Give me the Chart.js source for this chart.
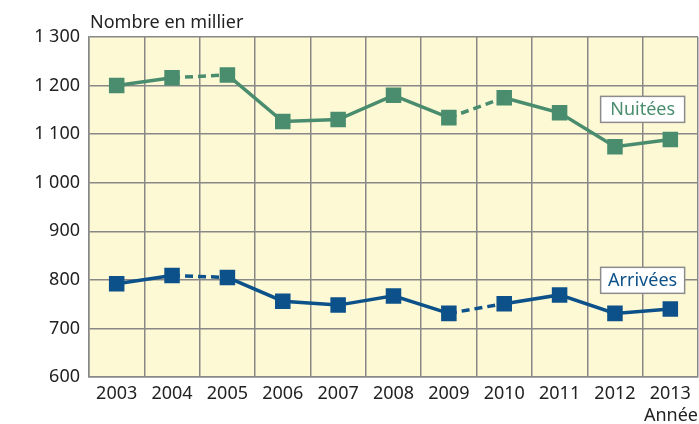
<!DOCTYPE html>
<html>
<head>
<meta charset="utf-8">
<script src="https://cdn.jsdelivr.net/npm/chart.js@4"></script>
<style>
	html, body { margin: 0; padding: 0; background: #ffffff; }
	#wrap { width: 699px; height: 424px; position: relative; }
</style>
</head>
<body>
<div id="wrap"><canvas id="chart"></canvas></div>
<script>
const years = ['2003', '2004', '2005', '2006', '2007', '2008', '2009', '2010', '2011', '2012', '2013'];
const nuitees = [1200, 1216, 1222, 1126, 1130, 1180, 1134, 1175, 1144, 1074, 1089];
const arrivees = [792, 809, 805, 756, 748, 767, 731, 751, 769, 731, 740];
// segments drawn dashed (index of the starting point)
const dashedFrom = [1, 6];

const green = '#4a8d6e';
const blue = '#0c5189';
const fontName = '"Noto Sans", sans-serif';

function segDash(ctx) {
	return dashedFrom.indexOf(ctx.p0DataIndex) !== -1 ? [8, 5] : undefined;
}

const decor = {
	id: 'decor',
	beforeDraw(chart) {
		const a = chart.chartArea;
		const c = chart.ctx;
		c.save();
		c.fillStyle = '#fef9d5';
		c.fillRect(a.left, a.top, a.right - a.left, a.bottom - a.top);
		c.restore();
	},
	afterDraw(chart) {
		const c = chart.ctx;
		const x = chart.scales.x;
		const y = chart.scales.y;
		c.save();
		c.font = '18px ' + fontName;
		c.fillStyle = '#222222';
		c.textBaseline = 'alphabetic';
		c.textAlign = 'left';
		c.fillText('Nombre en millier', 90, 28);
		c.textAlign = 'right';
		c.fillText('Année', 698, 421);
		// series labels in boxes
		const labels = [
			{text: 'Nuitées', color: green, value: 1151},
			{text: 'Arrivées', color: blue, value: 799},
		];
		for (let l of labels) {
			let cx = x.getPixelForValue(9.5);
			let cy = y.getPixelForValue(l.value);
			let w = 84, h = 26;
			c.fillStyle = '#ffffff';
			c.fillRect(cx - w / 2, cy - h / 2, w, h);
			c.strokeStyle = '#8c8c8c';
			c.lineWidth = 1.5;
			c.strokeRect(cx - w / 2, cy - h / 2, w, h);
			c.fillStyle = l.color;
			c.textAlign = 'center';
			c.textBaseline = 'middle';
			c.fillText(l.text, cx, cy + 1);
		}
		c.restore();
	},
};

new Chart(document.getElementById('chart'), {
	type: 'line',
	data: {
		labels: years,
		datasets: [
			{
				label: 'Nuitées',
				data: nuitees,
				borderColor: green,
				backgroundColor: green,
				borderWidth: 3.5,
				pointStyle: 'rect',
				pointRadius: 8.5,
				pointHoverRadius: 8.5,
				tension: 0,
				segment: {borderDash: segDash},
			},
			{
				label: 'Arrivées',
				data: arrivees,
				borderColor: blue,
				backgroundColor: blue,
				borderWidth: 3.5,
				pointStyle: 'rect',
				pointRadius: 8.5,
				pointHoverRadius: 8.5,
				tension: 0,
				segment: {borderDash: segDash},
			},
		],
	},
	options: {
		responsive: true,
		maintainAspectRatio: false,
		animation: false,
		layout: {autoPadding: false, padding: {top: 37, right: 1, bottom: 0, left: 0}},
		plugins: {
			legend: {display: false},
			tooltip: {enabled: false},
		},
		scales: {
			x: {
				offset: true,
				grid: {color: '#888888', lineWidth: 1.5, offset: true, drawTicks: false},
				border: {color: '#888888', width: 1.5},
				ticks: {color: '#222222', font: {family: fontName, size: 18}, padding: 6, maxRotation: 0},
				afterFit(scale) {
					scale.height = 47;
					scale.paddingLeft = 0;
					scale.paddingRight = 0;
				},
			},
			y: {
				min: 600,
				max: 1300,
				grid: {color: '#888888', lineWidth: 1.5, drawTicks: false},
				border: {color: '#888888', width: 1.5},
				ticks: {
					stepSize: 100,
					color: '#222222',
					font: {family: fontName, size: 18},
					padding: 9,
					callback: function(v) {
						return v >= 1000 ? '1 ' + String(v - 1000).padStart(3, '0') : String(v);
					},
				},
				afterFit(scale) { scale.width = 89; },
			},
		},
	},
	plugins: [decor],
});
</script>
</body>
</html>
